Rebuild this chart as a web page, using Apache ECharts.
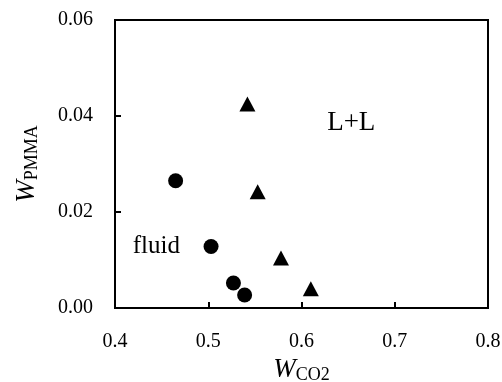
<!DOCTYPE html>
<html>
<head>
<meta charset="utf-8">
<script src="https://cdn.jsdelivr.net/npm/echarts@6/dist/echarts.min.js"></script>
<style>html,body{margin:0;padding:0;background:#fff}#c{width:502px;height:382px}</style>
</head>
<body>
<div id="c"></div>
<script>
const fluidX = [0.465, 0.503, 0.527, 0.539];
const fluidY = [0.0265, 0.0128, 0.0052, 0.0027];
const llX = [0.542, 0.553, 0.578, 0.610];
const llY = [0.0425, 0.0242, 0.0104, 0.0040];
const xTicks = [0.4, 0.5, 0.6, 0.7, 0.8];
const yTicks = [0.00, 0.02, 0.04, 0.06];
const annotations = [
  {text: 'fluid', x: 0.419, y: 0.0128},
  {text: 'L+L', x: 0.6275, y: 0.0385}
];

const chart = echarts.init(document.getElementById('c'));
const serif = '"Liberation Serif", "Times New Roman", serif';
chart.setOption({
  animation: false,
  backgroundColor: '#fff',
  grid: {left: 115, top: 20, right: 14, bottom: 74, outerBoundsMode: 'none', containLabel: false, show: true, borderColor: '#000', borderWidth: 2, backgroundColor: 'transparent'},
  xAxis: {
    type: 'value', min: xTicks[0], max: xTicks[xTicks.length-1], interval: 0.1,
    axisLine: {lineStyle: {color: '#000', width: 2}},
    axisTick: {inside: true, length: 6, lineStyle: {color: '#000', width: 2}},
    axisLabel: {color: '#000', fontFamily: serif, fontSize: 20, margin: 24, formatter: v => v.toFixed(1)},
    splitLine: {show: false},
    name: '{w|W}{s|CO2}', nameLocation: 'middle', nameGap: 46,
    nameTextStyle: {rich: {
      w: {fontFamily: serif, fontStyle: 'italic', fontSize: 27, color: '#000'},
      s: {fontFamily: serif, fontSize: 18, color: '#000', padding: [10, 0, 0, 0]}
    }}
  },
  yAxis: {
    type: 'value', min: yTicks[0], max: yTicks[yTicks.length-1], interval: 0.02,
    axisLine: {lineStyle: {color: '#000', width: 2}},
    axisTick: {inside: true, length: 6, lineStyle: {color: '#000', width: 2}},
    axisLabel: {color: '#000', fontFamily: serif, fontSize: 20, margin: 22, formatter: v => v.toFixed(2)},
    splitLine: {show: false},
    name: '{w|W}{s|PMMA}', nameLocation: 'middle', nameGap: 74, nameRotate: 90,
    nameTextStyle: {rich: {
      w: {fontFamily: serif, fontStyle: 'italic', fontSize: 27, color: '#000'},
      s: {fontFamily: serif, fontSize: 18, color: '#000', padding: [10, 0, 0, 0]}
    }}
  },
  series: [
    {type: 'scatter', symbol: 'circle', symbolSize: 15, itemStyle: {color: '#000', opacity: 1},
     data: fluidX.map((x, i) => [x, fluidY[i]])},
    {type: 'scatter', symbol: 'triangle', symbolSize: [16, 15], itemStyle: {color: '#000', opacity: 1},
     data: llX.map((x, i) => [x, llY[i]])},
    {type: 'scatter', symbolSize: 0, silent: true, itemStyle: {opacity: 1},
     data: annotations.map(a => ({value: [a.x, a.y], label: {show: true, formatter: a.text, position: 'right', distance: 0, color: '#000', fontFamily: serif, fontSize: a.text === 'L+L' ? 27 : 25}}))}
  ]
});
</script>
</body>
</html>
